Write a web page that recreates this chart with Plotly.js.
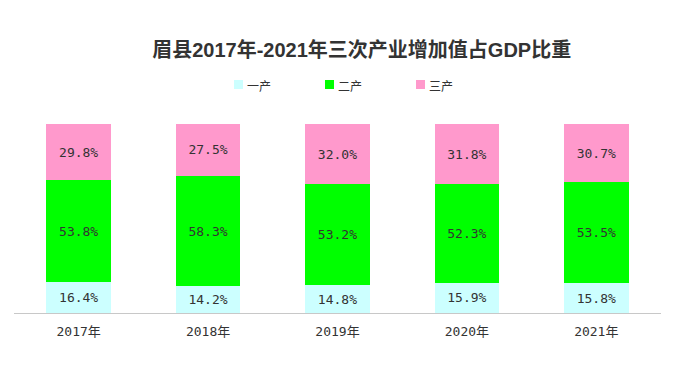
<!DOCTYPE html>
<html><head><meta charset="utf-8">
<script src="https://cdn.plot.ly/plotly-3.0.1.min.js"></script>
<style>html,body{margin:0;padding:0;background:#fff}#c{width:689px;height:379px}</style>
</head><body><div id="c"></div>
<script>
var years = ['2017年','2018年','2019年','2020年','2021年'];
var seriesNames = ['一产','二产','三产'];
var primary = [16.4, 14.2, 14.8, 15.9, 15.8];
var secondary = [53.8, 58.3, 53.2, 52.3, 53.5];
var tertiary = [29.8, 27.5, 32.0, 31.8, 30.7];
var colors = ['#ccffff', '#00ff00', '#ff99cc'];
var values = [primary, secondary, tertiary];
var labelFont = "'DejaVu Sans Mono', 'Noto Sans CJK SC', monospace";

var traces = values.map(function(v, i){
  return {
    type: 'bar', x: years, y: v, name: seriesNames[i],
    marker: {color: colors[i]},
    text: v.map(function(d){ return d.toFixed(1) + '%'; }),
    textposition: 'inside', insidetextanchor: 'middle',
    textfont: {family: labelFont, size: 13, color: '#333'},
    hoverinfo: 'none', showlegend: false
  };
});

var legX = [234, 325, 416];
var shapes = seriesNames.map(function(n,i){
  return {type:'rect', xref:'paper', yref:'paper',
    x0:(legX[i]-14)/647, x1:(legX[i]-5)/647,
    y0:(313-89)/189, y1:(313-80)/189, line:{width:0}, fillcolor:colors[i]};
});
var annotations = seriesNames.map(function(n,i){
  return {xref:'paper', yref:'paper', x:(legX[i]-3)/647, y:(313-85)/189,
    xanchor:'left', yanchor:'middle', text:n, showarrow:false,
    font:{family:"'Noto Sans CJK SC', sans-serif", size:12, color:'#333'}};
});

var layout = {
  width: 689, height: 379,
  margin: {l: 14, r: 28, t: 124, b: 66},
  paper_bgcolor: '#fff', plot_bgcolor: '#fff',
  barmode: 'stack', bargap: 0.5,
  title: {text: '眉县2017年-2021年三次产业增加值占GDP比重', x: 0.525, xanchor: 'center', y: 0.868, yanchor: 'middle',
    font: {family: "'Liberation Sans', 'Noto Sans CJK SC', sans-serif", size: 20, color: '#333', weight: 'bold'}},
  xaxis: {showline: true, linecolor: '#c8c8c8', linewidth: 1, ticks: '', showgrid: false, zeroline: false,
    ticklabelstandoff: 6,
    tickfont: {family: labelFont, size: 13, color: '#333'}},
  yaxis: {range: [0, 100], visible: false, showgrid: false, zeroline: false},
  shapes: shapes, annotations: annotations, showlegend: false
};
Plotly.newPlot('c', traces, layout, {displayModeBar: false, staticPlot: true});
</script></body></html>
